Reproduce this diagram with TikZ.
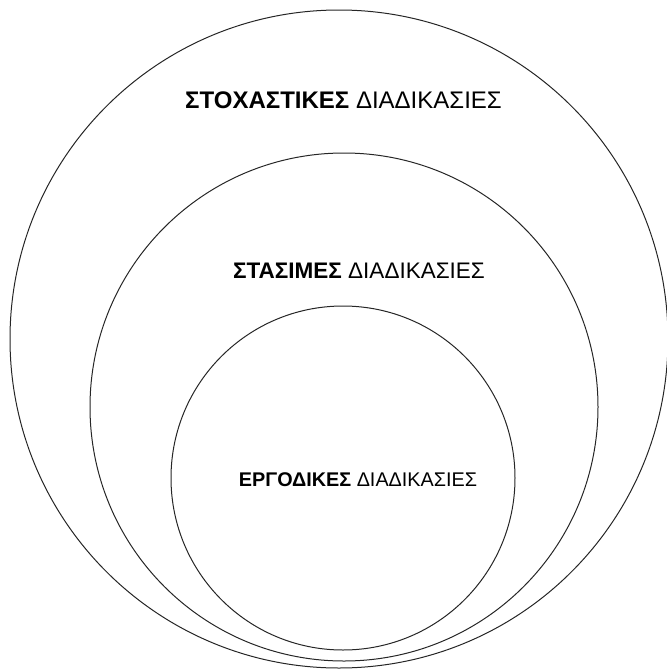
\documentclass[tikz,border=0pt]{standalone}
\usepackage{fontspec}
\setmainfont{Liberation Sans}
\usepackage{tikz}
\tikzset{ring/.style={circle, draw=black!85, line width=1pt, inner sep=0pt}}
\tikzset{label/.style={font=\fontsize{#1}{#1}\selectfont, inner sep=0pt}}

\begin{document}
\begin{tikzpicture}[x=1pt, y=-1pt]
\useasboundingbox (0,0) rectangle (667,670);
\node[ring, minimum size=658pt] (stoch) at (339,339) {};
\node[ring, minimum size=508pt] (stas) at (344,407) {};
\node[ring, minimum size=344pt] (ergo) at (343,478) {};
\node[label=24] (stochtxt) at (343.5,100) {\textbf{ΣΤΟΧΑΣΤΙΚΕΣ} ΔΙΑΔΙΚΑΣΙΕΣ};
\node[label=22.5] (stastxt) at (359,271) {\textbf{ΣΤΑΣΙΜΕΣ} ΔΙΑΔΙΚΑΣΙΕΣ};
\node[label=19.8] (ergotxt) at (358,480) {\textbf{ΕΡΓΟΔΙΚΕΣ} ΔΙΑΔΙΚΑΣΙΕΣ};
\end{tikzpicture}
\end{document}
